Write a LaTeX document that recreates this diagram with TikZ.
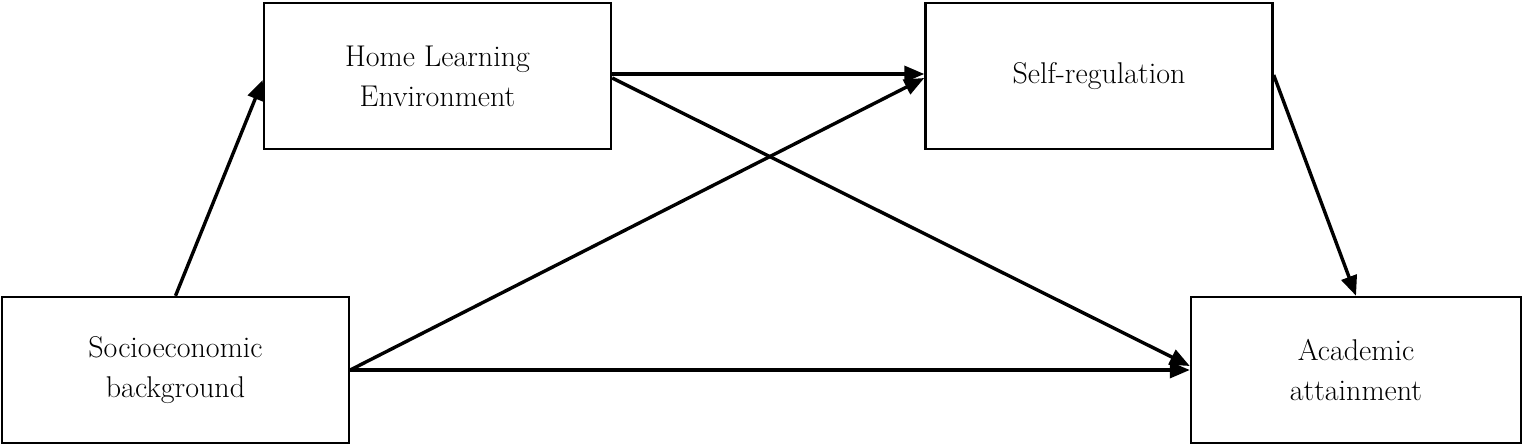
\documentclass[tikz,border=0pt]{standalone}
\usetikzlibrary{arrows.meta}
\begin{document}
\begin{tikzpicture}[x=1pt,y=-1pt,line width=3.4pt,
    box/.style={draw,line width=2.4pt,minimum width=347pt,minimum height=146pt,align=center,font=\fontsize{30}{40}\selectfont},
    arr/.style={-{Triangle[length=20pt,width=16pt]}}]
    \useasboundingbox (0,0) rectangle (1525,446);

    \node[box] at (437.5,76) (hle) {Home Learning\\Environment};
    \node[box] at (1099,76) (self) {Self-regulation};
    \node[box] at (175.5,370) (ses) {Socioeconomic\\background};
    \node[box,minimum width=330pt] at (1356,370) (acad) {Academic\\attainment};

    \draw[arr] (ses.north) -- (hle.west |- 0,80);
    \draw[arr] (hle.east |- 0,74) -- (self.west |- 0,74);
    \draw[arr] (hle.east |- 0,78) -- (acad.west |- 0,366);
    \draw[arr] (ses.east |- 0,370) -- (self.west |- 0,78);
    \draw[arr] (ses.east |- 0,370) -- (acad.west |- 0,370);
    \draw[arr] (self.east |- 0,75) -- (acad.north);
\end{tikzpicture}
\end{document}
